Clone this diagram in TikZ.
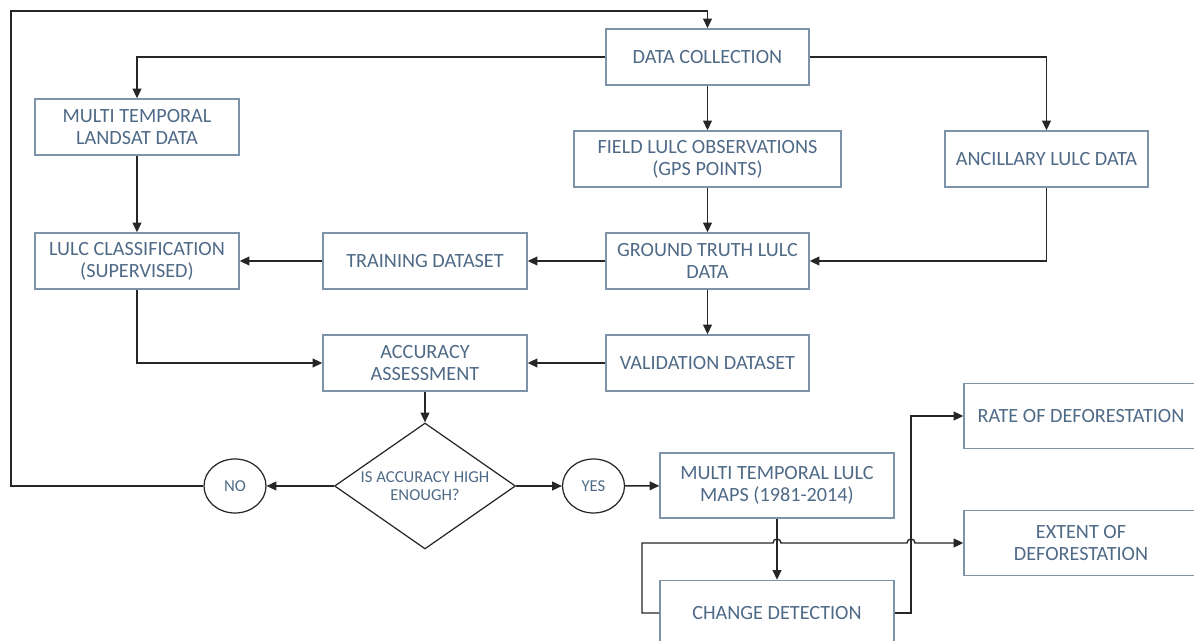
\documentclass[tikz,border=0pt]{standalone}
\usepackage{fontspec}
\setmainfont{Carlito}
\usetikzlibrary{arrows.meta,shapes.geometric}
\definecolor{boxline}{HTML}{7D93A8}
\definecolor{boxtext}{HTML}{4F6A87}
\definecolor{flowline}{HTML}{262626}

\begin{document}
\begin{tikzpicture}[x=0.02cm, y=-0.02cm,
    box/.style={draw=boxline, line width=0.8pt, fill=white, text=boxtext, align=center,
        minimum width=4.08cm, minimum height=1.12cm, inner sep=2pt, font=\fontsize{11.5}{12.5}\selectfont},
    bigbox/.style={box, minimum width=4.68cm, minimum height=1.3cm},
    answer/.style={draw=flowline, ellipse, line width=0.7pt, text=boxtext, minimum width=1.24cm,
        minimum height=1.08cm, inner sep=0pt, font=\fontsize{9.5}{10.5}\selectfont},
    arr/.style={draw=flowline, line width=0.8pt, -{Triangle[length=5.5pt,width=5pt]}}]
    \useasboundingbox (0,0) rectangle (1194,641);
    \clip (0,0) rectangle (1194,641);

    % Boxes
    \node[box, minimum width=4.06cm] (collect) at (707.5,57) {DATA COLLECTION};
    \node[box] (landsat) at (137,127) {MULTI TEMPORAL\\LANDSAT DATA};
    \node[box, minimum width=5.34cm] (field) at (707.5,159) {FIELD LULC OBSERVATIONS\\(GPS POINTS)};
    \node[box, minimum width=4.06cm] (ancil) at (1046.5,159) {ANCILLARY LULC DATA};
    \node[box] (classify) at (137,261) {LULC CLASSIFICATION\\(SUPERVISED)};
    \node[box] (train) at (425,261) {TRAINING DATASET};
    \node[box, minimum width=4.06cm] (truth) at (707.5,261) {GROUND TRUTH LULC\\DATA};
    \node[box] (assess) at (425,363) {ACCURACY\\ASSESSMENT};
    \node[box, minimum width=4.06cm] (valid) at (707.5,363) {VALIDATION DATASET};

    % Decision
    \node[draw=flowline, diamond, aspect=1.43, line width=0.7pt, text=boxtext, align=center, inner sep=0pt,
        minimum width=3.62cm, minimum height=2.52cm, font=\fontsize{9.5}{10.5}\selectfont]
        (check) at (425,486) {IS ACCURACY HIGH\\ENOUGH?};
    \node[answer] (no) at (235,486) {NO};
    \node[answer] (yes) at (593.5,486) {YES};

    \node[bigbox] (maps) at (777,485.5) {MULTI TEMPORAL LULC\\MAPS (1981-2014)};
    \node[bigbox] (detect) at (777,613) {CHANGE DETECTION};
    \node[bigbox] (rate) at (1081,416) {RATE OF DEFORESTATION};
    \node[bigbox] (extent) at (1081,543) {EXTENT OF\\DEFORESTATION};

    % Corners
    \coordinate (loopTop) at (11,11);
    \coordinate (cdLeft) at (642,613);
    \coordinate (cdRight) at (911,613);
    \coordinate (hopA) at (773,543);
    \coordinate (hopB) at (907,543);

    % Connectors
    \draw[arr] (no.west) -| (loopTop) -| (collect.north);
    \draw[arr] (collect.west) -| (landsat.north);
    \draw[arr] (collect.east) -| (ancil.north);
    \draw[arr] (collect) -- (field);
    \draw[arr] (field) -- (truth);
    \draw[arr] (landsat) -- (classify);
    \draw[arr] (ancil.south) |- (truth.east);
    \draw[arr] (truth) -- (train);
    \draw[arr] (train) -- (classify);
    \draw[arr] (classify.south) |- (assess.west);
    \draw[arr] (truth) -- (valid);
    \draw[arr] (valid) -- (assess);
    \draw[arr] (assess) -- (check);
    \draw[arr] (check) -- (no);
    \draw[arr] (check) -- (yes);
    \draw[arr] (yes) -- (maps);
    \draw[arr] (maps) -- (detect);
    \draw[arr] (detect.east) -- (cdRight) |- (rate.west);
    \draw[arr] (detect.west) -- (cdLeft) |- (hopA)
        arc[start angle=180, end angle=360, radius=4] -- (hopB)
        arc[start angle=180, end angle=360, radius=4] -- (extent.west);
\end{tikzpicture}
\end{document}
